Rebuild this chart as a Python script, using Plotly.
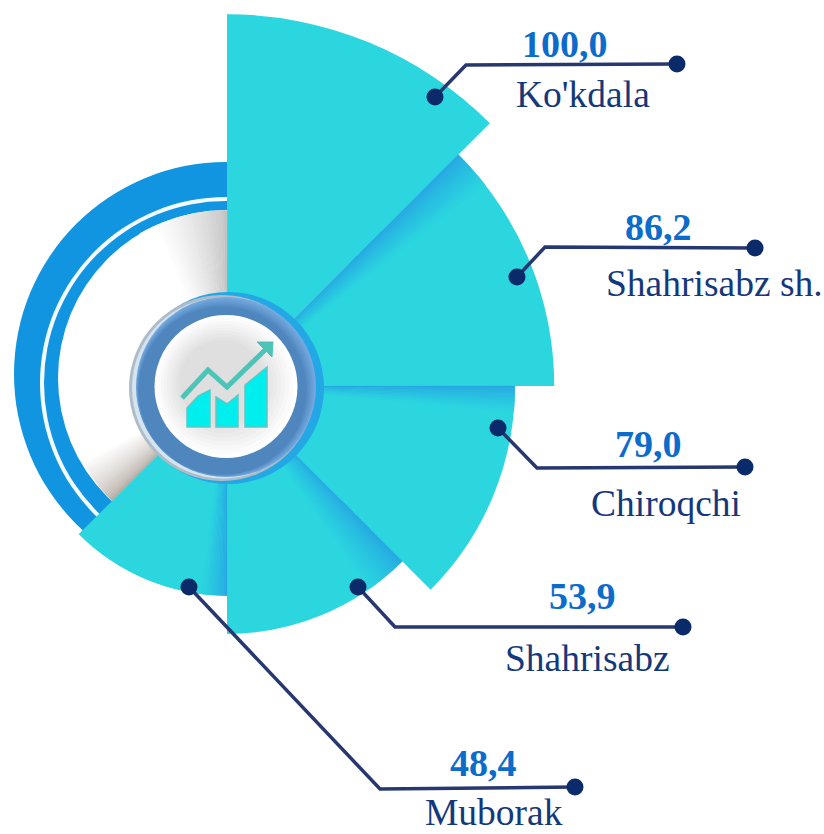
import plotly.graph_objects as go

W, H = 824, 834

# Chart data
categories = ["Ko'kdala", "Shahrisabz sh.", "Chiroqchi", "Shahrisabz", "Muborak"]
value_labels = ["100,0", "86,2", "79,0", "53,9", "48,4"]
# wedge lengths as drawn in the picture, they do not follow the printed values exactly
wedge_reach = [99.4, 87.5, 77, 66.3, 56.1]
wedge_theta = [22.5, 67.5, 112.5, 157.5, 202.5]
wedge_width = [45, 45, 45, 45, 45]

# Label layout in pixels
value_pos = [(565, 44), (658, 227), (648, 444), (582, 596), (483, 763)]
name_pos = [(583, 95), (714, 283), (666, 503), (587, 658), (494, 812)]
leader_start = [(435, 97), (517, 277), (498, 428), (358, 587), (189, 587)]
leader_corner = [(466, 65), (545, 247), (537, 468), (395, 627), (380, 789)]
leader_end = [(677, 64), (755, 248), (745, 467), (683, 627), (575, 787)]

TEAL = "#2BD6DF"
SHADE = "#27A8E3"
LINE = "#27376F"
NAVY = "#14397A"
DOT = "#0A2A6A"
BLUE = "#0B6CCB"
FONT = "Liberation Serif"

CX, CY = 227, 386
R_BIG = 374
R_SMALL = 210


def px(x):
    return x / W


def py(y):
    return 1 - y / H


def mix(c1, c2, t):
    a = [int(c1[i:i + 2], 16) for i in (1, 3, 5)]
    b = [int(c2[i:i + 2], 16) for i in (1, 3, 5)]
    return "#%02x%02x%02x" % tuple(round(p + (q - p) * t) for p, q in zip(a, b))


def circle(x, y, r, color, layer="above"):
    return dict(type="circle", xref="paper", yref="paper", layer=layer,
                x0=px(x - r), x1=px(x + r), y0=py(y + r), y1=py(y - r),
                fillcolor=color, line_width=0)


def poly(points, color, line=None, width=0, close=True):
    path = "M " + " L ".join(f"{px(x):.5f},{py(y):.5f}" for x, y in points)
    if close:
        path += " Z"
    return dict(type="path", xref="paper", yref="paper", layer="above", path=path,
                fillcolor=color if close else "rgba(0,0,0,0)",
                line=dict(color=line or color, width=width))


fig = go.Figure()

# big wedges on the right half
fig.add_trace(go.Barpolar(r=wedge_reach[:4], theta=wedge_theta[:4], width=wedge_width[:4],
                          marker=dict(color=TEAL, line_width=0), subplot="polar"))

# blue shadow along the first edge of each wedge, drawn as thin bars
shade_span = [0, 7, 5, 10, 0]
for i in range(1, 4):
    start = wedge_theta[i] - wedge_width[i] / 2
    steps = shade_span[i] * 2
    fig.add_trace(go.Barpolar(
        r=[wedge_reach[i]] * steps,
        theta=[start + (k + 0.5) * 0.5 for k in range(steps)],
        width=[0.6] * steps,
        marker=dict(color=[mix(SHADE, TEAL, (k / steps) ** 0.8) for k in range(steps)], line_width=0),
        subplot="polar"))

# grey shading of the white disc next to the wedges
small_max = 100 * R_SMALL / R_BIG
fig.add_trace(go.Barpolar(
    r=[47] * 30, theta=[359.5 - 1.0 * k for k in range(30)], width=[1.2] * 30,
    marker=dict(color=[mix("#C2C2C2", "#FFFFFF", min(1, (k / 24) ** 0.7)) for k in range(30)], line_width=0),
    subplot="polar2"))
fig.add_trace(go.Barpolar(
    r=[43.5] * 20, theta=[225.5 + 1.0 * k for k in range(20)], width=[1.2] * 20,
    marker=dict(color=[mix("#B8AEA6", "#FFFFFF", min(1, (k / 17) ** 0.7)) for k in range(20)], line_width=0),
    subplot="polar2"))

# last wedge sits left of the centre so it gets its own smaller polar
fig.add_trace(go.Barpolar(r=wedge_reach[4:], theta=wedge_theta[4:], width=wedge_width[4:],
                          marker=dict(color=TEAL, line_width=0), subplot="polar2"))
fig.add_trace(go.Barpolar(
    r=[wedge_reach[4]] * 14,
    theta=[180.25 + 0.5 * k for k in range(14)],
    width=[0.6] * 14,
    marker=dict(color=[mix(SHADE, TEAL, (k / 14) ** 0.8) for k in range(14)], line_width=0),
    subplot="polar2"))

shapes = [
    # rings on the left
    circle(226, 374, 212, "#1295E0", "below"),
    circle(226, 383, 186, "#F4FBFE", "below"),
    circle(226, 383, 182, "#1295E0", "below"),
    circle(226, 378, 168, "#FFFFFF", "below"),
    # middle badge, blue halo on the right and grey edge on the left
    circle(228, 388, 96, "#23A7E5"),
    circle(222, 388, 93, "#AEBCC8"),
    circle(222.5, 388, 90.5, "#D5E4EF"),
]
# ring gets darker towards the lower left
for k in range(7):
    shapes.append(circle(226 - k * 0.6, 387 + k * 0.6, 90 - k * 1.0, mix("#74A9DE", "#4F86BE", k / 6)))
# white disc with grey middle
for k in range(9):
    shapes.append(circle(226 - k * 0.5, 386.5 - k * 0.5, 71.5 - k * 3.6, mix("#FFFFFF", "#E0DFDF", k / 8)))
shapes += [
    # icon
    poly([(187, 408), (198, 396), (210, 390), (210, 427), (187, 427)], "#00EEEE", "#5CC9C4", 1.5),
    poly([(216, 397), (227, 404), (238, 395), (238, 427), (216, 427)], "#00EEEE", "#5CC9C4", 1.5),
    poly([(245, 385), (267, 367), (267, 427), (245, 427)], "#00EEEE", "#5CC9C4", 1.5),
    poly([(182, 398), (208, 370), (227, 387), (265, 350)], "#4CC4B8", "#4CC4B8", 5, close=False),
    poly([(257, 342), (273, 342), (272, 357)], "#4CC4B8", "#4CC4B8", 1),
]

for a, b, c in zip(leader_start, leader_corner, leader_end):
    shapes.append(poly([a, b, c], LINE, LINE, 3.5, close=False))
    shapes.append(circle(a[0], a[1], 8.5, DOT))
    shapes.append(circle(c[0], c[1], 8.5, DOT))

annotations = []
for label, name, vp, np_ in zip(value_labels, categories, value_pos, name_pos):
    annotations.append(dict(x=px(vp[0]), y=py(vp[1]), xref="paper", yref="paper", text=f"<b>{label}</b>",
                            showarrow=False, xanchor="center", yanchor="middle",
                            font=dict(family=FONT, size=38, color=BLUE)))
    annotations.append(dict(x=px(np_[0]), y=py(np_[1]), xref="paper", yref="paper", text=name,
                            showarrow=False, xanchor="center", yanchor="middle",
                            font=dict(family=FONT, size=37.5, color=NAVY)))

hidden_radial = dict(visible=False)
hidden_angular = dict(visible=False, rotation=90, direction="clockwise")

fig.update_layout(
    width=W, height=H,
    margin=dict(l=0, r=0, t=0, b=0),
    paper_bgcolor="white",
    showlegend=False,
    shapes=shapes,
    annotations=annotations,
    polar=dict(
        domain=dict(x=[px(CX), px(CX + R_BIG)], y=[py(CY + R_BIG), py(CY - R_BIG)]),
        sector=[-90, 90],
        bgcolor="rgba(0,0,0,0)",
        barmode="overlay", bargap=0,
        radialaxis=dict(range=[0, 100], **hidden_radial),
        angularaxis=hidden_angular,
    ),
    polar2=dict(
        domain=dict(x=[px(CX - R_SMALL), px(CX + R_SMALL)], y=[py(CY + R_SMALL), py(CY - R_SMALL)]),
        bgcolor="rgba(0,0,0,0)",
        barmode="overlay", bargap=0,
        radialaxis=dict(range=[0, small_max], **hidden_radial),
        angularaxis=hidden_angular,
    ),
)

# drop the default page margin so the figure fills the window
fig.write_html("out.html", post_script="document.body.style.margin='0';",
               config=dict(displayModeBar=False))
